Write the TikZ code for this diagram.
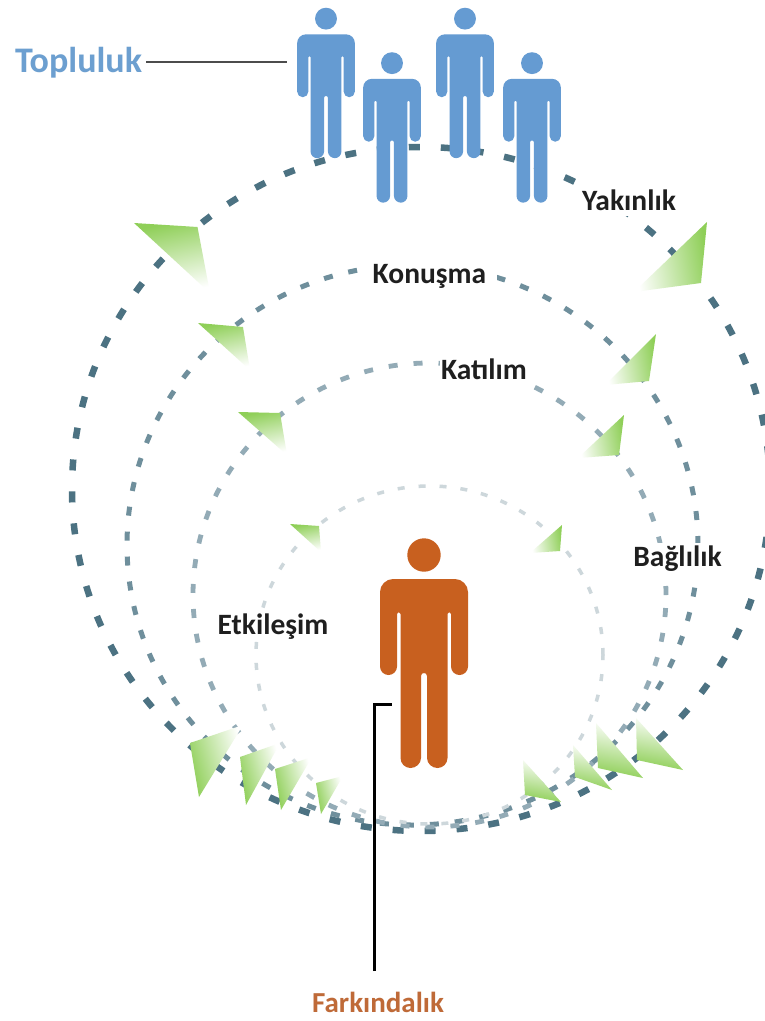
\documentclass[tikz,border=0pt]{standalone}
\usepackage{fontspec}
\setmainfont{Carlito}
\definecolor{ringA}{HTML}{4C7282}
\definecolor{ringB}{HTML}{6F8F9C}
\definecolor{ringC}{HTML}{93ABB6}
\definecolor{ringD}{HTML}{CDD7DB}
\definecolor{bluefig}{HTML}{659BD2}
\definecolor{orangefig}{HTML}{C8601F}
\definecolor{toplabel}{HTML}{6C9FD0}
\definecolor{farklabel}{HTML}{BF6A38}
\definecolor{leaf}{HTML}{8FCF58}
\tikzset{
  lbl/.style={font=\bfseries\fontsize{29.5}{32}\selectfont,text=black!88,fill=white,inner xsep=1pt,inner ysep=0pt},
  ringa/.style={ringA,line width=6.5pt,dash pattern=on 11pt off 21pt},
  ringb/.style={ringB,line width=5pt,dash pattern=on 9pt off 16pt},
  ringc/.style={ringC,line width=4.8pt,dash pattern=on 9pt off 16pt},
  ringd/.style={ringD,line width=3.5pt,dash pattern=on 7pt off 14pt},
  leader/.style={line width=3pt}
}
% #1 colour, #2 centre x, #3 top y, #4 scale
\newcommand{\figperson}[4]{%
\begin{scope}[shift={(#2,#3)},scale=#4]
\fill[#1] (0,17) circle [radius=16.7];
\fill[#1] (-31,41) -- (31,41) .. controls (38,41) and (44,47) .. (44,54)
 -- (44,128.5) .. controls (44,133.2) and (40.2,137) .. (35.5,137)
 .. controls (30.8,137) and (27,133.2) .. (27,128.5)
 -- (27,76) .. controls (27,73.5) and (23.5,73.5) .. (23.5,76)
 -- (23.5,220) .. controls (23.5,225.5) and (19,230) .. (13.5,230)
 .. controls (8,230) and (3,225.5) .. (3,220)
 -- (3,138) .. controls (3,134) and (-3,134) .. (-3,138)
 -- (-3,220) .. controls (-3,225.5) and (-8,230) .. (-13.5,230)
 .. controls (-19,230) and (-23.5,225.5) .. (-23.5,220)
 -- (-23.5,76) .. controls (-23.5,73.5) and (-27,73.5) .. (-27,76)
 -- (-27,128.5) .. controls (-27,133.2) and (-30.8,137) .. (-35.5,137)
 .. controls (-40.2,137) and (-44,133.2) .. (-44,128.5)
 -- (-44,54) .. controls (-44,47) and (-38,41) .. (-31,41) -- cycle;
\end{scope}}
% #1,#2,#3 vertices, #4 shading angle
\newcommand{\leaftri}[4]{\shade[top color=leaf,bottom color=white,shading angle=#4] #1 -- #2 -- #3 -- cycle;}
\begin{document}
\begin{tikzpicture}[x=1pt,y=-1pt]
\useasboundingbox (0,0) rectangle (765,1021);
\fill[white] (0,0) rectangle (765,1021);
% rings
\draw[ringa] (421,489) ellipse [x radius=349pt,y radius=342pt];
\draw[ringb] (412.5,545) ellipse [x radius=285.5pt,y radius=280pt];
\draw[ringc] (429.5,595) ellipse [x radius=236.5pt,y radius=232pt];
\draw[ringd] (429.5,655) ellipse [x radius=173.5pt,y radius=169pt];
% labels on rings
\node[lbl,inner xsep=8pt,inner ysep=6pt] (yak) at (629,200) {Yakınlık};
\node[lbl,inner xsep=11pt,inner ysep=7pt] (kon) at (429.5,276) {Konuşma};
\node[lbl,inner ysep=4pt] (kat) at (484,369) {Katılım};
\node[lbl,inner ysep=3pt] (bag) at (677.5,559) {Bağlılık};
\node[lbl] (etk) at (273,627) {Etkileşim};
\node[font=\bfseries\fontsize{36}{40}\selectfont,text=toplabel,inner sep=0pt] (top) at (78.5,63) {Topluluk};
\node[font=\bfseries\fontsize{29}{32}\selectfont,text=farklabel,inner sep=0pt] (fark) at (378,1002) {Farkındalık};
% people
\figperson{bluefig}{326}{7.5}{0.655}
\figperson{bluefig}{392}{52}{0.655}
\figperson{bluefig}{465}{7.5}{0.655}
\figperson{bluefig}{532}{52}{0.655}
\figperson{orangefig}{424}{538}{1}
% leader lines
\coordinate (topEnd) at (287,62);
\coordinate (farkStart) at (374,971);
\coordinate (farkBend) at (374,704);
\coordinate (farkEnd) at (392,704);
\draw[black!70,line width=2pt] (top.east |- topEnd) ++(4,0) -- (topEnd);
\draw[black,leader] (farkStart) -- (farkBend) -- (farkEnd);
% arrowheads
\leaftri{(134,223)}{(197.5,227)}{(210,293)}{12}
\leaftri{(707,222)}{(701,283)}{(634,292)}{-80}
\leaftri{(198,323)}{(243,327)}{(250,370)}{12}
\leaftri{(656,334)}{(649,381)}{(605,385)}{-80}
\leaftri{(238,412)}{(280,413)}{(287,455)}{12}
\leaftri{(624,415)}{(619,455)}{(578,458)}{-80}
\leaftri{(290,524)}{(319,526)}{(321,552)}{12}
\leaftri{(562,525)}{(560,551)}{(530,553)}{-80}
\leaftri{(190,743)}{(243,725)}{(199,797)}{105}
\leaftri{(240,757)}{(280,743)}{(246,805)}{105}
\leaftri{(275,769)}{(312,757)}{(281,810)}{105}
\leaftri{(316,783)}{(343,776)}{(321,814)}{105}
\leaftri{(523,760)}{(561,802)}{(525,795)}{170}
\leaftri{(573,745)}{(612,790)}{(575,777)}{170}
\leaftri{(596,723)}{(643,778)}{(598,768)}{170}
\leaftri{(636,718)}{(683,770)}{(637,760)}{170}
\end{tikzpicture}
\end{document}
